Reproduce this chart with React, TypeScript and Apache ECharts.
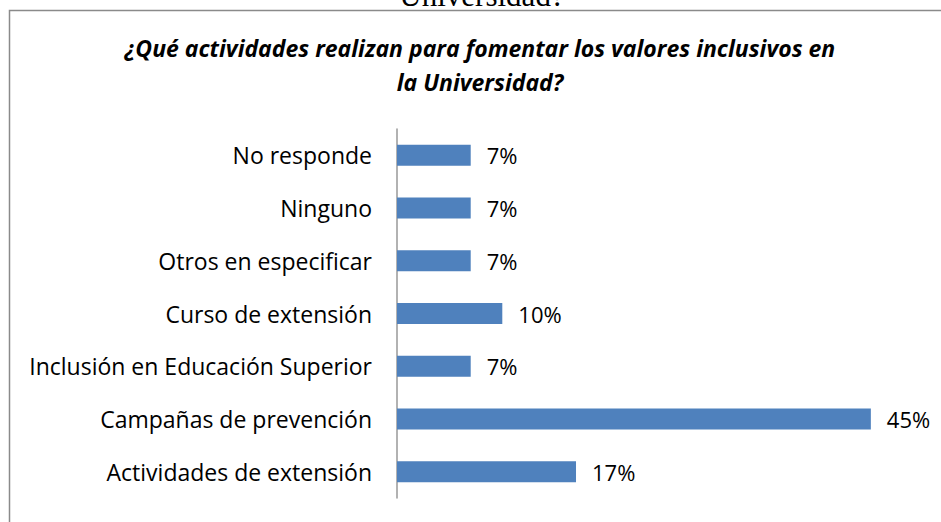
import React, { useEffect, useRef } from "react";
import * as echarts from "echarts";

const categories = [
  "No responde",
  "Ninguno",
  "Otros en especificar",
  "Curso de extensión",
  "Inclusión en Educación Superior",
  "Campañas de prevención",
  "Actividades de extensión",
];
const values = [7, 7, 7, 10, 7, 45, 17];
const titleLines = [
  "¿Qué actividades realizan para fomentar los valores inclusivos en",
  "la Universidad?",
];
const clippedHeading = "Universidad?";

export default function App() {
  const ref = useRef<HTMLDivElement>(null);
  useEffect(() => {
    if (!ref.current) return;
    const chart = echarts.init(ref.current, undefined, { renderer: "svg" });
    chart.setOption({
      animation: false,
      backgroundColor: "#ffffff",
      title: {
        text: titleLines.join("\n"),
        left: 480,
        top: 31,
        textAlign: "center",
        padding: 0,
        textStyle: {
          fontFamily: "'Open Sans'",
          fontWeight: "bold",
          fontStyle: "italic",
          fontSize: 23,
          lineHeight: 34,
          color: "#000000",
        },
      },
      graphic: [
        {
          type: "text",
          x: 482,
          y: -4.5,
          style: {
            text: clippedHeading,
            fontFamily: "'Liberation Serif', serif",
            fontSize: 31,
            fill: "#000000",
            align: "center",
            verticalAlign: "middle",
          },
        },
        {
          type: "rect",
          shape: { x: 9.5, y: 10.5, width: 1000, height: 600 },
          style: { fill: "none", stroke: "#8a8a8a", lineWidth: 1.5 },
          z: 10,
        },
      ],
      grid: { left: 397, top: 129, width: 526.5, height: 369, containLabel: false },
      xAxis: {
        type: "value",
        min: 0,
        max: 50,
        show: false,
      },
      yAxis: {
        type: "category",
        data: categories,
        inverse: true,
        axisLine: { show: true, lineStyle: { color: "#999999", width: 1.5 } },
        axisTick: { show: false },
        axisLabel: {
          margin: 25,
          fontFamily: "'Open Sans'",
          fontSize: 23,
          color: "#000000",
        },
        splitLine: { show: false },
      },
      series: [
        {
          type: "bar",
          data: values,
          barWidth: 21,
          itemStyle: { color: "#4f81bd" },
          label: {
            show: true,
            position: "right",
            distance: 16,
            formatter: "{c}%",
            fontFamily: "'Open Sans'",
            fontSize: 22,
            color: "#000000",
          },
        },
      ],
    });
    return () => chart.dispose();
  }, []);
  return (
    <div
      ref={ref}
      style={{ position: "fixed", left: 0, top: 0, width: 941, height: 522, background: "#fff" }}
    />
  );
}
